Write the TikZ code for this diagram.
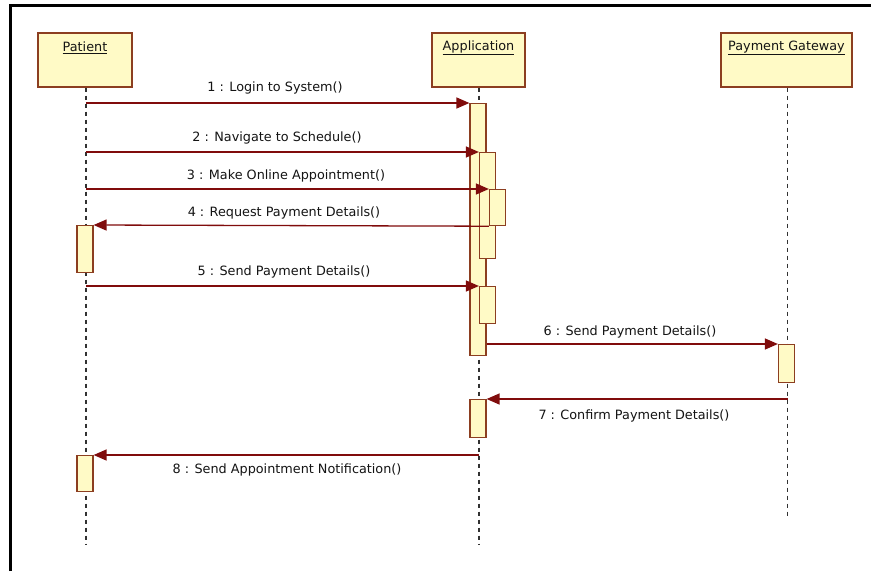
\documentclass[tikz,border=0pt]{standalone}
\usepackage{fontspec}
\setmainfont{DejaVu Sans}
\usetikzlibrary{arrows.meta,calc}

\definecolor{boxfill}{RGB}{255,250,198}
\definecolor{boxborder}{RGB}{140,62,32}
\definecolor{msgred}{RGB}{128,12,12}
\definecolor{lifegray}{RGB}{50,50,50}
\definecolor{txtdark}{RGB}{20,20,20}

\tikzset{
  headbox/.style={draw=boxborder, fill=boxfill, line width=1.2pt, inner sep=0pt,
    minimum height=54pt},
  headtxt/.style={font=\fontsize{12.8}{14}\selectfont, text=txtdark, inner sep=0pt},
  actbox/.style={draw=boxborder, fill=boxfill, line width=1.2pt, inner sep=0pt,
    minimum width=16pt, anchor=north},
  lifeline/.style={draw=lifegray, line width=1.3pt, dash pattern=on 4pt off 4pt},
  msg/.style={draw=msgred, line width=1.3pt,
    -{Triangle[length=13pt,width=11pt,fill=msgred]}},
  msglbl/.style={font=\fontsize{12.8}{14}\selectfont, text=txtdark, inner sep=0pt},
}

\begin{document}
\begin{tikzpicture}[x=1pt,y=-1pt]
\useasboundingbox (0,0) rectangle (871,571);
\fill[white] (0,0) rectangle (871,571);

% frame
\draw[line width=2.8pt, black] (10.3,571) -- (10.3,5.5) -- (871,5.5);

% lifeline heads
\node[headbox, minimum width=94pt] (patient) at (85,60) {};
\node[headbox, minimum width=93pt] (app) at (478.5,60) {};
\node[headbox, minimum width=131pt] (gate) at (786.5,60) {};
\node[headtxt] (patienttxt) at (85,48) {\underline{Patient}};
\node[headtxt] (apptxt) at (478.5,48) {\underline{Application}};
\node[headtxt] (gatetxt) at (786.5,48) {\underline{Payment Gateway}};

% lifelines
\coordinate (patientend) at (86,545);
\coordinate (append) at (479,545);
\coordinate (gateend) at (787.5,518);
\draw[lifeline] (patient.south -| patientend) -- (patientend);
\draw[lifeline] (app.south -| append) -- (append);
\draw[lifeline] (gate.south -| gateend) -- (gateend);

% activations
\node[actbox, minimum height=252pt] (a1) at (478,103) {};
\node[actbox, minimum height=106pt] (a2) at (487.5,152) {};
\node[actbox, minimum height=36pt] (a3) at (497.5,189) {};
\node[actbox, minimum height=37pt] (a4) at (487.5,286) {};
\node[actbox, minimum height=38pt] (a5) at (478,399) {};
\node[actbox, minimum height=47pt] (p1) at (85,225) {};
\node[actbox, minimum height=36pt] (p2) at (85,455) {};
\node[actbox, minimum height=38pt] (g1) at (786.5,344) {};

% message start points on the lifelines
\coordinate (m1s) at (86,103);
\coordinate (m2s) at (86,152);
\coordinate (m3s) at (86,189);
\coordinate (m5s) at (86,286);
\coordinate (m7s) at (787.5,399);
\coordinate (m8s) at (479,455);

% messages
\draw[msg] (m1s) -- (a1.north west);
\draw[msg] (m2s) -- (a2.north west);
\draw[msg] (m3s) -- (a3.north west);
\draw[msg] (a3.south west) -- (p1.north east);
\draw[msg] (m5s) -- (a4.north west);
\draw[msg] (a1.east |- g1.north) -- (g1.north west);
\draw[msg] (m7s) -- (a5.north east);
\draw[msg] (m8s) -- (p2.north east);

% message labels
\node[msglbl] (l1) at (275,88) {1 : Login to System()};
\node[msglbl] (l2) at (277,138) {2 : Navigate to Schedule()};
\node[msglbl] (l3) at (286,176) {3 : Make Online Appointment()};
\node[msglbl] (l4) at (284,213) {4 : Request Payment Details()};
\node[msglbl] (l5) at (284,272) {5 : Send Payment Details()};
\node[msglbl] (l6) at (630,332) {6 : Send Payment Details()};
\node[msglbl] (l7) at (634,416) {7 : Confirm Payment Details()};
\node[msglbl] (l8) at (287,470) {8 : Send Appointment Notification()};
\end{tikzpicture}
\end{document}
